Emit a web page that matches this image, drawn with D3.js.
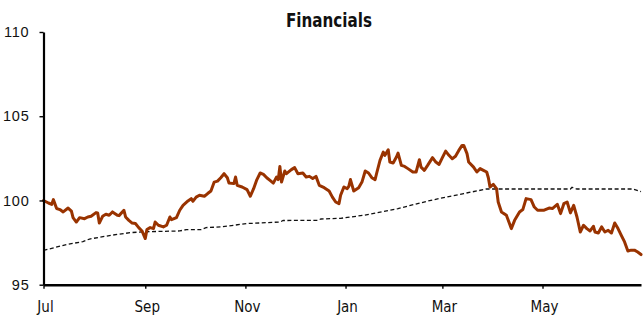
<!DOCTYPE html>
<html>
<head>
<meta charset="utf-8">
<script src="https://cdn.jsdelivr.net/npm/d3@7/dist/d3.min.js"></script>
<style>
  html, body { margin: 0; padding: 0; background: #fff; }
  svg { display: block; }
</style>
</head>
<body>
<svg id="chart" width="643" height="320"></svg>
<script>
// Financials index, daily closes (rebased to 100 on 1 Jul)
const dates = [
  "2013-07-01","2013-07-04","2013-07-06","2013-07-07","2013-07-09","2013-07-11","2013-07-13","2013-07-16",
  "2013-07-18","2013-07-19","2013-07-21","2013-07-23","2013-07-26","2013-07-28","2013-07-30","2013-08-02",
  "2013-08-03","2013-08-04","2013-08-06","2013-08-08","2013-08-10","2013-08-12","2013-08-15","2013-08-16",
  "2013-08-19","2013-08-20","2013-08-22","2013-08-24","2013-08-26","2013-08-28","2013-08-30","2013-09-01",
  "2013-09-02","2013-09-04","2013-09-06","2013-09-07","2013-09-09","2013-09-12","2013-09-14","2013-09-16",
  "2013-09-17","2013-09-20","2013-09-22","2013-09-24","2013-09-27","2013-09-29","2013-09-30","2013-10-02",
  "2013-10-04","2013-10-07","2013-10-09","2013-10-11","2013-10-13","2013-10-15","2013-10-17","2013-10-19",
  "2013-10-21","2013-10-22","2013-10-25","2013-10-26","2013-10-27","2013-10-30","2013-11-02","2013-11-04",
  "2013-11-06","2013-11-08","2013-11-10","2013-11-12","2013-11-14","2013-11-16","2013-11-18","2013-11-20",
  "2013-11-21","2013-11-22","2013-11-23","2013-11-25","2013-11-26","2013-11-29","2013-12-01","2013-12-03",
  "2013-12-06","2013-12-08","2013-12-10","2013-12-12","2013-12-14","2013-12-16","2013-12-19","2013-12-22",
  "2013-12-24","2013-12-26","2013-12-28","2013-12-29","2013-12-31","2014-01-02","2014-01-03","2014-01-04",
  "2014-01-05","2014-01-06","2014-01-09","2014-01-11","2014-01-13","2014-01-15","2014-01-17","2014-01-19",
  "2014-01-20","2014-01-22","2014-01-24","2014-01-25","2014-01-27","2014-01-28","2014-01-30","2014-02-01",
  "2014-02-02","2014-02-04","2014-02-06","2014-02-08","2014-02-11","2014-02-13","2014-02-15","2014-02-16",
  "2014-02-18","2014-02-20","2014-02-23","2014-02-25","2014-02-27","2014-03-01","2014-03-03","2014-03-05",
  "2014-03-07","2014-03-09","2014-03-11","2014-03-13","2014-03-14","2014-03-16","2014-03-17","2014-03-20",
  "2014-03-22","2014-03-24","2014-03-26","2014-03-28","2014-03-29","2014-03-30","2014-04-01","2014-04-03",
  "2014-04-04","2014-04-06","2014-04-09","2014-04-12","2014-04-14","2014-04-17","2014-04-19","2014-04-21",
  "2014-04-24","2014-04-26","2014-04-28","2014-05-02","2014-05-05","2014-05-07","2014-05-10","2014-05-12",
  "2014-05-14","2014-05-16","2014-05-18","2014-05-20","2014-05-22","2014-05-24","2014-05-26","2014-05-28",
  "2014-05-30","2014-06-01","2014-06-02","2014-06-04","2014-06-06","2014-06-08","2014-06-10","2014-06-12",
  "2014-06-14","2014-06-16","2014-06-18","2014-06-20","2014-06-22","2014-06-24","2014-06-26","2014-06-28",
  "2014-06-30"
];
const financials = [
  100.00, 99.85, 99.77,100.05, 99.52, 99.46, 99.32, 99.55,
   99.37, 98.98, 98.72, 98.98, 98.92, 99.02, 99.06, 99.28,
   99.26, 98.66, 99.06, 99.18, 99.12, 99.32, 99.12, 99.10,
   99.42, 99.02, 98.82, 98.66, 98.63, 98.39, 98.19, 97.74,
   98.27, 98.39, 98.33, 98.72, 98.53, 98.43, 98.53, 99.02,
   98.86, 98.98, 99.42, 99.71, 99.97,100.11, 99.95,100.20,
  100.31,100.25,100.41,100.56,101.09,101.15,101.35,101.59,
  101.35,101.03,101.00,101.39,100.90,100.80,100.64,100.25,
  100.70,101.24,101.63,101.55,101.35,101.19,101.03,101.39,
  101.24,102.02,101.09,101.75,101.59,101.83,101.95,101.59,
  101.63,101.39,101.43,101.30,101.43,100.90,100.76,100.56,
  100.20, 99.91, 99.81,100.31,100.80,100.70,100.84,101.24,
  100.90,100.56,100.76,101.09,101.75,101.63,101.35,101.24,
  101.63,102.38,102.87,102.68,103.01,102.28,102.22,102.58,
  102.81,102.08,102.02,101.89,101.69,101.69,102.42,101.98,
  101.79,102.08,102.54,102.28,102.14,102.54,102.93,102.68,
  102.48,102.62,102.97,103.27,103.27,102.78,102.28,101.98,
  101.69,101.89,101.79,101.69,101.35,100.80,100.96,100.70,
   99.91, 99.32, 99.12, 98.33, 98.82, 99.32, 99.46,100.11,
  100.05, 99.61, 99.42, 99.42, 99.55, 99.52, 99.77, 99.22,
   99.81, 99.91, 99.26, 99.71, 99.02, 98.13, 98.53, 98.33,
   98.19, 98.47, 98.13, 98.07, 98.43, 98.13, 98.23, 98.07,
   98.66, 98.33, 97.93, 97.54, 97.00, 97.05, 97.05, 96.94,
   96.79
];

// Benchmark path (dashed)
const benchDates = [
  "2013-07-01","2013-07-15","2013-07-25","2013-07-29","2013-08-11","2013-08-23","2013-08-31",
  "2013-09-22","2013-09-26","2013-10-05","2013-10-08","2013-10-17","2013-11-02","2013-11-22",
  "2013-11-24","2013-12-15","2013-12-17","2013-12-29","2014-01-12","2014-02-02","2014-02-22",
  "2014-03-14","2014-03-28","2014-05-18","2014-05-19","2014-05-22","2014-06-25","2014-06-30"
];
const benchmark = [
   97.04, 97.38, 97.56, 97.71, 97.93, 98.09, 98.14,
   98.19, 98.27, 98.27, 98.39, 98.43, 98.63, 98.72,
   98.81, 98.82, 98.90, 98.94, 99.12, 99.52,100.01,
  100.41,100.68,100.68,100.78,100.68,100.68,100.52
];

const monthTicks  = ["2013-07-01","2013-09-01","2013-11-01","2014-01-01","2014-03-01","2014-05-01"];
const monthLabels = ["Jul","Sep","Nov","Jan","Mar","May"];
const yTicks = [95, 100, 105, 110];
const title = "Financials";

const parse = d3.utcParse("%Y-%m-%d");
const series = dates.map((d, i) => ({ date: parse(d), value: financials[i] }));
const bench  = benchDates.map((d, i) => ({ date: parse(d), value: benchmark[i] }));
const tickDates = monthTicks.map(parse);

const svg = d3.select("#chart");

const x = d3.scaleUtc()
  .domain([parse("2013-07-01"), parse("2014-06-30")])
  .range([43.5, 641]);
const y = d3.scaleLinear()
  .domain([95, 110])
  .range([284.7, 32]);

// benchmark first so the index line sits on top
const line = d3.line().x(d => x(d.date)).y(d => y(d.value));

svg.append("path")
  .datum(bench)
  .attr("fill", "none")
  .attr("stroke", "#111")
  .attr("stroke-width", 1.3)
  .attr("stroke-dasharray", "4,2.5")
  .attr("d", line);

svg.append("path")
  .datum(series)
  .attr("fill", "none")
  .attr("stroke", "#993300")
  .attr("stroke-width", 3)
  .attr("stroke-linejoin", "round")
  .attr("stroke-linecap", "round")
  .attr("d", line);

// y axis
const yAxis = svg.append("g")
  .attr("transform", `translate(${x.range()[0]},0)`)
  .call(d3.axisLeft(y).tickValues(yTicks).tickSize(4).tickSizeOuter(0).tickPadding(10));
yAxis.select(".domain").attr("stroke", "#000").attr("stroke-width", 2.2);
yAxis.selectAll(".tick line").attr("stroke", "#000").attr("stroke-width", 1.4);
yAxis.selectAll(".tick text")
  .attr("font-family", "'Liberation Sans', Arial, sans-serif")
  .attr("font-size", 14.5)
  .attr("letter-spacing", 0.8)
  .attr("fill", "#111");

// x axis
const monthName = new Map(tickDates.map((d, i) => [+d, monthLabels[i]]));
const xAxis = svg.append("g")
  .attr("transform", `translate(0,${y(95)})`)
  .call(d3.axisBottom(x).tickValues(tickDates).tickSize(4).tickSizeOuter(0)
    .tickFormat(d => monthName.get(+d)));
xAxis.select(".domain").attr("stroke", "#000").attr("stroke-width", 2.4);
xAxis.selectAll(".tick line").attr("stroke", "#000").attr("stroke-width", 1.4);
xAxis.selectAll(".tick text")
  .attr("font-family", "'DejaVu Sans Condensed', 'DejaVu Sans', sans-serif")
  .attr("font-stretch", "condensed")
  .attr("font-size", 15)
  .attr("fill", "#111")
  .attr("dy", 0)
  .attr("dx", 1.5)
  .attr("y", 27);

// title
svg.append("text")
  .attr("x", 329)
  .attr("y", 27)
  .attr("text-anchor", "middle")
  .attr("font-family", "'DejaVu Sans Condensed', 'DejaVu Sans', sans-serif")
  .attr("font-stretch", "condensed")
  .attr("font-weight", "bold")
  .attr("font-size", 19)
  .attr("textLength", 86)
  .attr("lengthAdjust", "spacingAndGlyphs")
  .attr("fill", "#111")
  .text(title);
</script>
</body>
</html>
